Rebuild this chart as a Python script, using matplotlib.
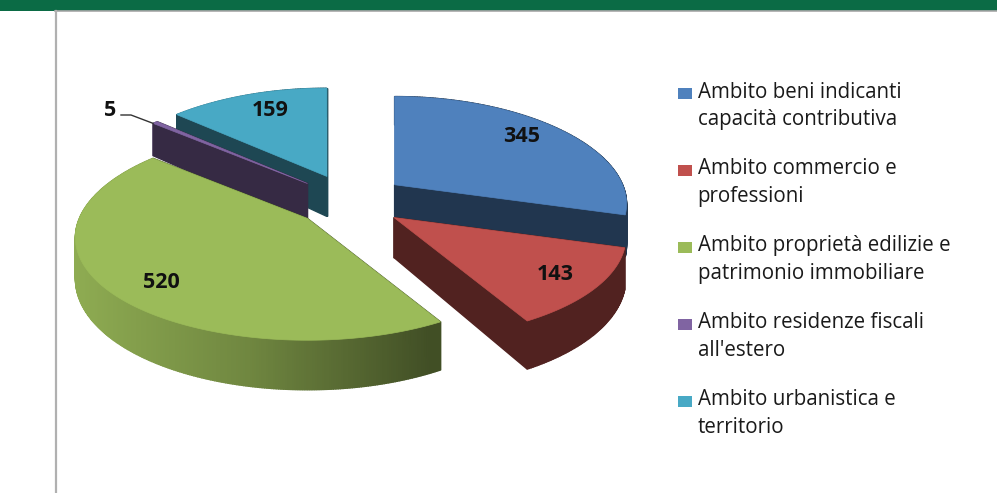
import numpy as np
import matplotlib
matplotlib.use('Agg')
import matplotlib.pyplot as plt
from matplotlib.patches import Polygon, Rectangle

labels = ['Ambito beni indicanti\ncapacità contributiva',
          'Ambito commercio e\nprofessioni',
          'Ambito proprietà edilizie e\npatrimonio immobiliare',
          "Ambito residenze fiscali\nall'estero",
          'Ambito urbanistica e\nterritorio']
values = [345, 143, 520, 5, 159]
colors = ['#4f81bd', '#c0504d', '#9bbb59', '#8064a2', '#48a9c5']

plt.rcParams['font.family'] = ['Open Sans', 'DejaVu Sans']

fig = plt.figure()
fig.set_size_inches(9.97, 4.93)
fig.set_dpi(100)
ax = fig.add_axes([0, 0, 1, 1])
ax.set_xlim(0, 997)
ax.set_ylim(493, 0)
ax.axis('off')

# pagina: banda verde e cornice grigia
ax.add_patch(Rectangle((0, 0), 997, 10.5, fc='#0b6b45', ec='none'))
ax.plot([55, 997], [11, 11], color='#a8a8a8', lw=1.2)
ax.plot([55.5, 55.5], [11, 493], color='#b0b0b0', lw=1.6)

# finta prospettiva della torta 3D
cx, cy = 350, 201
rx, ry = 228, 105
qx, qy = 0.19, 0.16
explode = 0.245
expl_y = 0.257


def project(u, v):
    return rx * u * (1 + qx * v), ry * v * (1 + qy * v)


def wall_depth(v):
    return 39 * (1 + 0.27 * v)


def shade(col, f):
    return tuple(c * f for c in matplotlib.colors.to_rgb(col))


total = sum(values)
angles = np.cumsum([0] + values) / total * 2 * np.pi
slices = []
for i in range(len(values)):
    a0, a1 = angles[i], angles[i + 1]
    mid = (a0 + a1) / 2
    ox = cx + explode * rx * np.sin(mid)
    oy = cy - expl_y * ry * np.cos(mid)
    th = np.linspace(a0, a1, max(4, int(np.degrees(a1 - a0) * 2)))
    px, py = project(np.sin(th), -np.cos(th))
    slices.append((i, ox, oy, th, ox + px, oy + py))

# ordine di disegno: dal fondo verso il davanti
for i, ox, oy, th, xs, ys in [slices[k] for k in (4, 3, 2, 0, 1)]:
    d = wall_depth(-np.cos(th))
    d0 = 40
    quads = []
    # pareti radiali
    for x1, y1, d1 in ((xs[0], ys[0], d[0]), (xs[-1], ys[-1], d[-1])):
        q = [(ox, oy), (x1, y1), (x1, y1 + d1), (ox, oy + d0)]
        quads.append(((oy + y1) / 2, q, shade(colors[i], 0.42)))
    # parete esterna, a spicchi per la sfumatura
    for k in range(len(th) - 1):
        q = [(xs[k], ys[k]), (xs[k + 1], ys[k + 1]),
             (xs[k + 1], ys[k + 1] + d[k + 1]), (xs[k], ys[k] + d[k])]
        f = np.interp((xs[k] + xs[k + 1]) / 2, [74, 250, 430, 640], [0.92, 0.72, 0.42, 0.42])
        quads.append(((ys[k] + ys[k + 1]) / 2, q, shade(colors[i], f)))
    for _, q, c in sorted(quads, key=lambda t: t[0]):
        ax.add_patch(Polygon(q, closed=True, fc=c, ec=c, lw=1))
    top = [(ox, oy)] + list(zip(xs, ys))
    ax.add_patch(Polygon(top, closed=True, fc=colors[i], ec=colors[i], lw=0.5))

# etichette dati
label_pos = [(522, 137), (555, 274), (161, 283), (110, 110), (270, 111)]
for v, (lx, ly) in zip(values, label_pos):
    ax.text(lx, ly, str(v), ha='center', va='center', fontsize=15.5, fontweight='bold', color='#111111')
leader_end = (slices[3][4][0], slices[3][5][0])
ax.plot([121, 131, leader_end[0]], [115, 115, leader_end[1]], color='#333333', lw=1)

# legenda
leg_y = [93.5, 170, 247, 324, 401]
for lab, col, y in zip(labels, colors, leg_y):
    ax.add_patch(Rectangle((678, y - 5.5), 14, 11, fc=col, ec='none'))
    ax.text(697.5, y - 1.5, lab.split('\n')[0], ha='left', va='center', fontsize=14.8, color='#1a1a1a')
    ax.text(697.5, y + 26.5, lab.split('\n')[1], ha='left', va='center', fontsize=14.8, color='#1a1a1a')

plt.savefig('out.png', dpi=100)
